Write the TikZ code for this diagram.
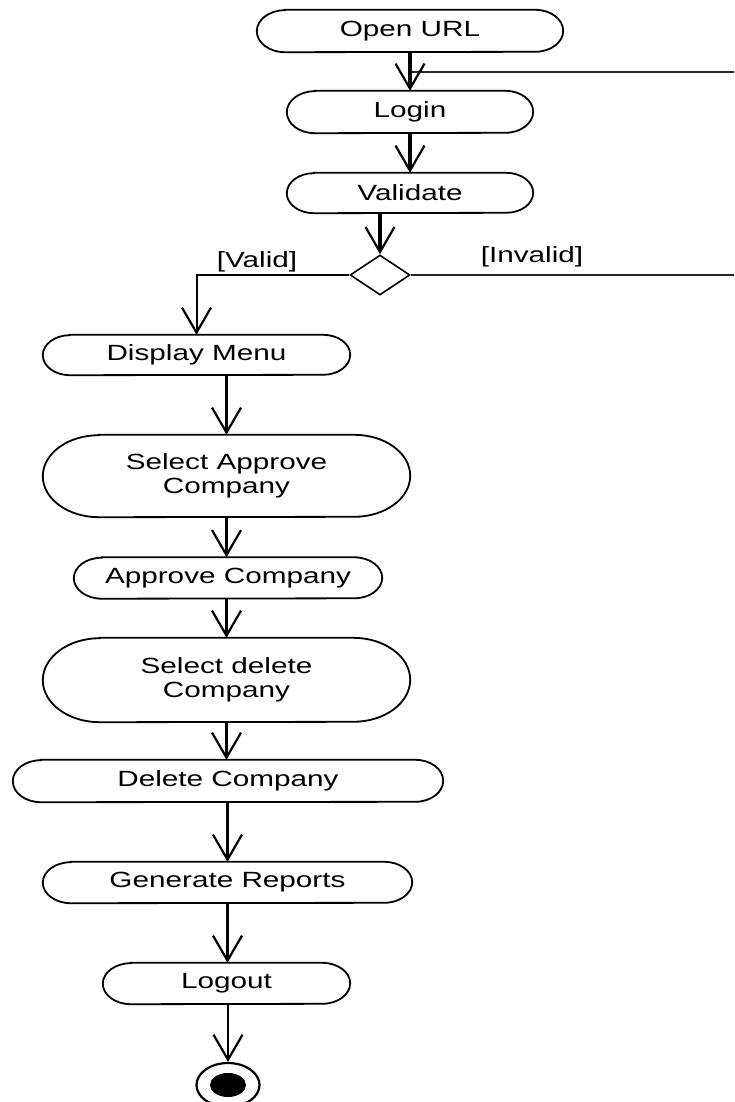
\documentclass[tikz,border=0pt]{standalone}
\usepackage{fontspec}
\setmainfont{Liberation Sans}[FakeStretch=1.35]
\usetikzlibrary{arrows.meta,shapes.geometric}

\tikzset{
  txt/.style={font=\fontsize{22pt}{24pt}\selectfont, text=black, align=center},
  acttext/.style={txt, inner sep=0pt},
  border/.style={draw=black, line width=1.8pt},
  flow/.style={draw=black, line width=2.6pt,
    -{Straight Barb[length=25pt,width=29pt,line width=2.2pt]}},
  boldflow/.style={flow, line width=3.6pt},
  guard/.style={draw=black!85, line width=1.8pt},
}

% action node with elliptical ends: name, cx, cy, width, height, end radius, text
\newcommand\actnode[7]{%
  \node[acttext, minimum width=#4pt, minimum height=#5pt] (#1) at (#2,-#3) {#7};
  \draw[border] ([xshift=#6pt]#1.north west) -- ([xshift=-#6pt]#1.north east)
    arc[start angle=90, end angle=-90, x radius=#6pt, y radius=#5pt/2]
    -- ([xshift=#6pt]#1.south west)
    arc[start angle=270, end angle=90, x radius=#6pt, y radius=#5pt/2] -- cycle;}

\begin{document}
\begin{tikzpicture}[x=1pt, y=1pt]
  \useasboundingbox (0,0) rectangle (734,-1102);
  \clip (0,0) rectangle (734,-1102);

  \actnode{open}{410}{31}{306}{42}{28}{Open URL}
  \actnode{login}{410}{112}{246}{42}{28}{Login}
  \actnode{check}{410}{193}{246}{40}{27}{Validate}
  \node[diamond, draw=black, line width=1.6pt, inner sep=0pt, aspect=1.5,
        minimum width=60pt, minimum height=40pt] (dec) at (380,-275) {};
  \actnode{menu}{196.5}{355}{307}{40}{27}{Display Menu}
  \actnode{selapp}{226.5}{476}{367}{82}{56}{Select Approve\\Company}
  \actnode{approve}{228}{578}{308}{41}{28}{Approve Company}
  \actnode{seldel}{226.5}{680}{367}{84}{57}{Select delete\\Company}
  \actnode{delete}{228}{781}{430}{42}{28}{Delete Company}
  \actnode{report}{227.5}{882.5}{369}{41}{28}{Generate Reports}
  \actnode{logout}{226.5}{983.5}{247}{41}{28}{Logout}

  % final state
  \node[ellipse, draw=black, line width=2.2pt, inner sep=0pt,
        minimum width=63pt, minimum height=44pt] (final) at (228,-1085) {};
  \node[ellipse, fill=black, inner sep=0pt,
        minimum width=36pt, minimum height=24pt] (finalin) at (final.center) {};

  % guard labels
  \node[txt, inner sep=0pt] (vlab) at (257,-262) {[Valid]};
  \node[txt, inner sep=0pt] (ilab) at (532,-257) {[Invalid]};

  % return path for invalid input
  \coordinate (loopR) at (760,-275);
  \coordinate (loopT) at (760,-72);
  \draw[guard, line width=1.6pt] (dec.east) -- (loopR) -- (loopT) -- (open.south |- loopT);

  % control flow
  \draw[boldflow] (open.south) -- (login.north);
  \draw[boldflow] (login.south) -- (check.north);
  \draw[boldflow] (dec.north |- check.south) -- (dec.north);
  \draw[flow, line width=2pt] (dec.west) -| (menu.north);
  \draw[flow] (selapp.north |- menu.south) -- (selapp.north);
  \draw[flow] (selapp.south) -- (approve.north -| selapp.south);
  \draw[flow] (seldel.north |- approve.south) -- (seldel.north);
  \draw[flow] (seldel.south) -- (delete.north -| seldel.south);
  \draw[flow] (report.north |- delete.south) -- (report.north);
  \draw[flow] (report.south) -- (logout.north -| report.south);
  \draw[flow] (final.north |- logout.south) -- (final.north);
\end{tikzpicture}
\end{document}
